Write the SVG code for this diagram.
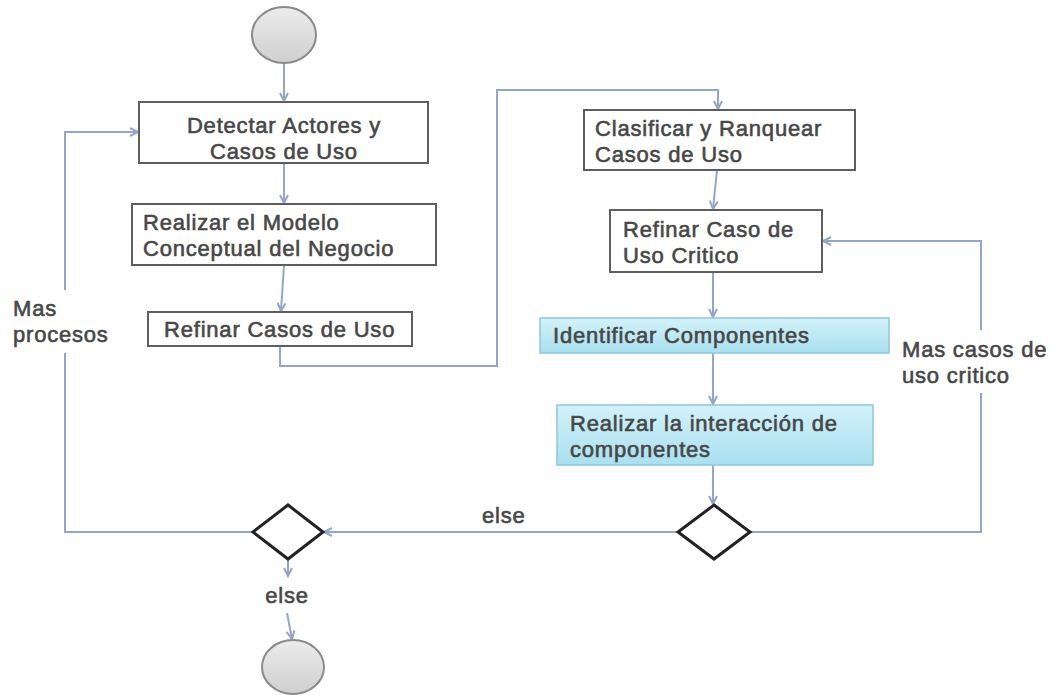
<svg xmlns="http://www.w3.org/2000/svg" width="1054" height="695" viewBox="0 0 1054 695">
  <style>
    .box { fill: #ffffff; stroke: #5e5e5e; stroke-width: 2; }
    .blue { fill: url(#blueFill); stroke: #8fc6d8; stroke-width: 1.5; }
    .term { fill: url(#termFill); stroke: #8a8a8a; stroke-width: 2; }
    .dec { fill: #ffffff; stroke: #222222; stroke-width: 3; stroke-linejoin: miter; }
    .flow { fill: none; stroke: #93a6c9; stroke-width: 2; marker-end: url(#arrow); }
    .line { fill: none; stroke: #93a6c9; stroke-width: 2; }
    .t { font-family: "Liberation Sans", Arial, sans-serif; font-size: 22px; letter-spacing: 0.8px; fill: #474747; stroke: #474747; stroke-width: 0.6px; }
    .mid { text-anchor: middle; }
  </style>
  <defs>
    <linearGradient id="blueFill" x1="0" y1="0" x2="0" y2="1">
      <stop offset="0" stop-color="#d3f2fa"/>
      <stop offset="1" stop-color="#a9e0ef"/>
    </linearGradient>
    <linearGradient id="termFill" x1="0" y1="0" x2="0" y2="1">
      <stop offset="0" stop-color="#ececec"/>
      <stop offset="1" stop-color="#cfcfcf"/>
    </linearGradient>
    <marker id="arrow" markerUnits="userSpaceOnUse" markerWidth="12" markerHeight="12" refX="9" refY="5" orient="auto">
      <path d="M1,1 L9,5 L1,9" fill="none" stroke="#93a6c9" stroke-width="2"/>
    </marker>
  </defs>

  <g id="connectors">
    <path class="flow" d="M284,63 V101"/>
    <path class="flow" d="M284,163 V203"/>
    <path class="flow" d="M284,265 L281,311"/>
    <path class="flow" d="M280,346 V366 H497 V90 H718 V109"/>
    <path class="flow" d="M717,170 L713,209"/>
    <path class="flow" d="M713,272 V317"/>
    <path class="flow" d="M713,353 V404"/>
    <path class="flow" d="M713,465 V504"/>
    <path class="line" d="M750,532 H981 V393"/>
    <path class="flow" d="M981,330 V241 H823"/>
    <path class="flow" d="M678,532 H324"/>
    <path class="line" d="M253,532 H65 V353"/>
    <path class="flow" d="M65,290 V132 H138"/>
    <path class="flow" d="M288,559 V576"/>
    <path class="flow" d="M287,613 L292,639"/>
    <text class="t" x="482" y="523">else</text>
    <text class="t mid" x="287" y="603">else</text>
    <text class="t"><tspan x="13" y="316">Mas</tspan><tspan x="13" y="342">procesos</tspan></text>
    <text class="t"><tspan x="902" y="357">Mas casos de</tspan><tspan x="902" y="383">uso critico</tspan></text>
  </g>

  <g id="start">
    <ellipse class="term" cx="284" cy="35" rx="32" ry="28"/>
  </g>

  <g id="detectar">
    <rect class="box" x="139" y="102" width="289" height="61"/>
    <text class="t mid"><tspan x="284" y="133">Detectar Actores y</tspan><tspan x="284" y="159">Casos de Uso</tspan></text>
  </g>

  <g id="modelo">
    <rect class="box" x="132" y="204" width="304" height="61"/>
    <text class="t"><tspan x="143" y="230">Realizar el Modelo</tspan><tspan x="143" y="256">Conceptual del Negocio</tspan></text>
  </g>

  <g id="refinar">
    <rect class="box" x="148" y="312" width="264" height="34"/>
    <text class="t" x="164" y="337">Refinar Casos de Uso</text>
  </g>

  <g id="clasificar">
    <rect class="box" x="584" y="110" width="271" height="60"/>
    <text class="t"><tspan x="595" y="136">Clasificar y Ranquear</tspan><tspan x="595" y="162">Casos de Uso</tspan></text>
  </g>

  <g id="critico">
    <rect class="box" x="610" y="210" width="212" height="62"/>
    <text class="t"><tspan x="623" y="237">Refinar Caso de</tspan><tspan x="623" y="263">Uso Critico</tspan></text>
  </g>

  <g id="identificar">
    <rect class="blue" x="540" y="318" width="349" height="35"/>
    <text class="t" x="553" y="343">Identificar Componentes</text>
  </g>

  <g id="interaccion">
    <rect class="blue" x="557" y="405" width="316" height="60"/>
    <text class="t"><tspan x="570" y="431">Realizar la interacción de</tspan><tspan x="570" y="457">componentes</tspan></text>
  </g>

  <g id="decision-casos">
    <polygon class="dec" points="714,505 750,532 714,559 678,532"/>
  </g>

  <g id="decision-procesos">
    <polygon class="dec" points="288,505 323,532 288,559 253,532"/>
  </g>

  <g id="end">
    <ellipse class="term" cx="293" cy="667" rx="31" ry="27"/>
  </g>
</svg>
